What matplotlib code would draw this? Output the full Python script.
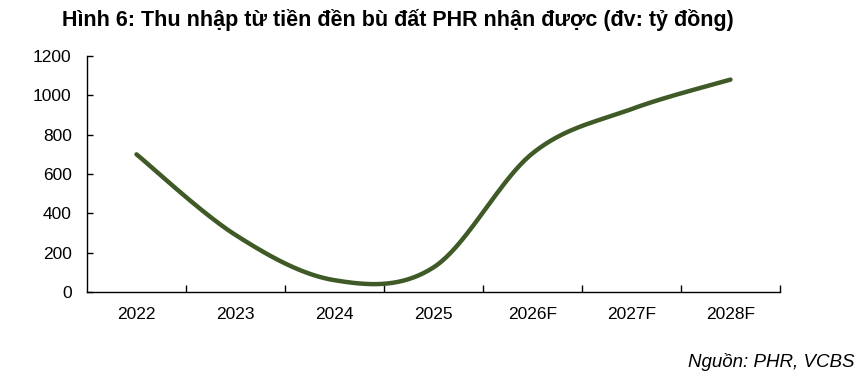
import numpy as np
import matplotlib
matplotlib.use("Agg")
import matplotlib.pyplot as plt
from matplotlib.ticker import FixedLocator

categories = ["2022", "2023", "2024", "2025", "2026F", "2027F", "2028F"]
values = [700, 290, 60, 125, 705, 930, 1080]
y_ticks = [0, 200, 400, 600, 800, 1000, 1200]

plt.rcParams['font.family'] = ['Liberation Sans', 'DejaVu Sans']

def smooth(xs, ys, n=40):
    xs = np.asarray(xs, float); ys = np.asarray(ys, float)
    px = np.concatenate([[xs[0]], xs, [xs[-1]]])
    py = np.concatenate([[ys[0]], ys, [ys[-1]]])
    ox, oy = [], []
    t = np.linspace(0, 1, n)
    for i in range(1, len(px) - 2):
        p0 = np.array([px[i], py[i]]); p1 = np.array([px[i+1], py[i+1]])
        c1 = p0 + (np.array([px[i+1], py[i+1]]) - np.array([px[i-1], py[i-1]])) / 6
        c2 = p1 - (np.array([px[i+2], py[i+2]]) - np.array([px[i], py[i]])) / 6
        b = ((1-t)**3)[:, None]*p0 + (3*(1-t)**2*t)[:, None]*c1 + (3*(1-t)*t**2)[:, None]*c2 + (t**3)[:, None]*p1
        ox.extend(b[:, 0]); oy.extend(b[:, 1])
    return np.array(ox), np.array(oy)

fig = plt.figure(figsize=(8.67, 3.80), dpi=100)
ax = fig.add_axes([87/867, 1-292/380, (780-87)/867, (292-56)/380])

x = np.arange(len(categories))
sx, sy = smooth(x, values)
ax.plot(sx, sy, color="#3f5a27", lw=3.2, solid_capstyle="round")

ax.set_xlim(-0.5, len(categories) - 0.5)
ax.set_ylim(0, 1200)
ax.set_yticks(y_ticks)
ax.set_xticks(x)
ax.set_xticklabels(categories)
ax.xaxis.set_minor_locator(FixedLocator(np.arange(len(categories)) + 0.5))
ax.tick_params(axis='x', which='major', length=0, pad=11, labelsize=12.5)
ax.tick_params(axis='x', which='minor', direction='in', length=5, width=1)
ax.tick_params(axis='y', direction='in', length=4, width=1, pad=11, labelsize=12.5)
for s in ["top", "right"]:
    ax.spines[s].set_visible(False)
for s in ["left", "bottom"]:
    ax.spines[s].set_linewidth(1)
    ax.spines[s].set_color("black")

fig.text(62/867, 1-20/380, "Hình 6: Thu nhập từ tiền đền bù đất PHR nhận được (đv: tỷ đồng)",
         fontsize=15.5, fontweight="bold", ha="left", va="center")
fig.text(855/867, 1-362/380, "Nguồn: PHR, VCBS", fontsize=13.5, style="italic",
         ha="right", va="center")

fig.savefig("out.png", dpi=100)
